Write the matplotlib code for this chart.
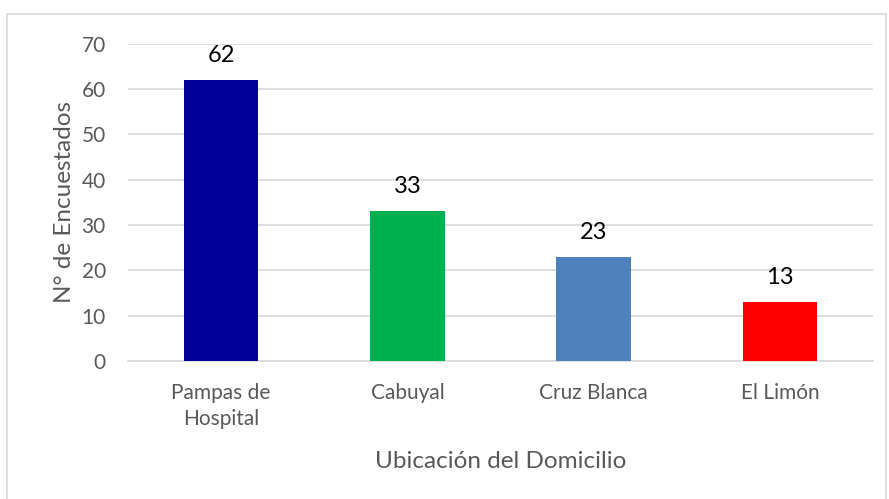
import matplotlib.pyplot as plt
from matplotlib.patches import Rectangle

categories = ["Pampas de\nHospital", "Cabuyal", "Cruz Blanca", "El Limón"]
values = [62, 33, 23, 13]
colors = ["#000099", "#00B050", "#4F81BD", "#FF0000"]
yticks = [0, 10, 20, 30, 40, 50, 60, 70]

plt.rcParams['font.family'] = ['Lato', 'DejaVu Sans']

fig = plt.figure(figsize=(8.89, 4.99), dpi=100)
ax = fig.add_axes([0.144, 0.2766, 0.838, 0.6362])

# outer chart frame
fig.patches.append(Rectangle((7 / 889, -0.05), 879 / 889, 1.05 - 14 / 499,
                             transform=fig.transFigure, fill=False,
                             edgecolor="#D9D9D9", linewidth=1.2))

x = range(len(categories))
bars = ax.bar(x, values, width=0.4, color=colors, zorder=3)
for b, v in zip(bars, values):
    ax.text(b.get_x() + b.get_width() / 2, v + 3.1, str(v), ha="center",
            va="bottom", fontsize=17, color="black")

ax.set_xlim(-0.5, len(categories) - 0.5)
ax.set_ylim(0, 70)
ax.set_yticks(yticks)
ax.yaxis.grid(True, color="#D9D9D9", linewidth=1.2, zorder=0)
ax.set_xticks(list(x))
ax.set_xticklabels(categories, fontsize=15, color="#595959", linespacing=1.35)
ax.tick_params(axis="y", labelsize=15, labelcolor="#595959", length=0, pad=16)
ax.tick_params(axis="x", length=0, pad=16)
for s in ["top", "right", "left"]:
    ax.spines[s].set_visible(False)
ax.spines["bottom"].set_color("#D9D9D9")
ax.spines["bottom"].set_linewidth(1.2)

ax.set_ylabel("N° de Encuestados", fontsize=17.5, color="#595959", labelpad=5)
ax.set_xlabel("Ubicación del Domicilio", fontsize=17.5, color="#595959", labelpad=16)

fig.savefig("out.png", dpi=100)
